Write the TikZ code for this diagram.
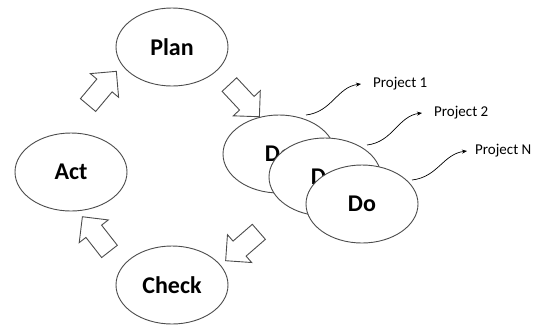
\documentclass[tikz,border=0pt]{standalone}
\usepackage{fontspec}
\setmainfont{Carlito}
\usetikzlibrary{shapes.geometric,shapes.arrows,arrows.meta}

\begin{document}
\begin{tikzpicture}[
	x=1pt, y=-1pt,
	phase/.style={ellipse, draw=black!70, line width=0.9pt, fill=white,
		minimum width=112pt, minimum height=78pt, inner sep=0pt,
		font=\fontsize{24}{24}\selectfont\bfseries},
	blockarrow/.style={single arrow, draw=black!70, line width=0.9pt,
		minimum height=44pt, minimum width=36pt,
		single arrow head extend=8.5pt, inner xsep=0pt, inner ysep=9.5pt},
	project/.style={anchor=west, inner sep=0pt, font=\fontsize{15}{15}\selectfont},
	squiggle/.style={-{Stealth[length=5pt,width=4pt]}, line width=0.7pt},
	]
	\useasboundingbox (0,0) rectangle (535,325);

	%phases
	\node[phase] (plan) at (172,47) {Plan};
	\node[phase] (act) at (71,172) {Act};
	\node[phase] (check) at (172,285) {Check};
	\node[phase] (do1) at (279,154) {Do};
	\node[phase] (do2) at (325,177) {Do};
	\node[phase] (do3) at (362,204) {Do};

	%block arrows
	\node[blockarrow, rotate=50] (actplan) at (99,92) {};
	\node[blockarrow, rotate=-47] (plando) at (241,97) {};
	\node[blockarrow, rotate=-139] (docheck) at (246,243) {};
	\node[blockarrow, rotate=128] (checkact) at (99,238) {};

	%projects
	\node[project] (p1) at (373,84) {Project 1};
	\node[project] (p2) at (434,113) {Project 2};
	\node[project] (pn) at (475,151) {Project N};

	\coordinate (s1) at (306,115);
	\coordinate (s2) at (367,145);
	\coordinate (sn) at (412,180);

	\draw[squiggle] (s1) .. controls +(26,-3) and +(-24,3) .. ([xshift=-12pt]p1.west);
	\draw[squiggle] (s2) .. controls +(26,-3) and +(-24,3) .. ([xshift=-12pt]p2.west);
	\draw[squiggle] (sn) .. controls +(26,-3) and +(-24,3) .. ([xshift=-8pt]pn.west);
\end{tikzpicture}
\end{document}
